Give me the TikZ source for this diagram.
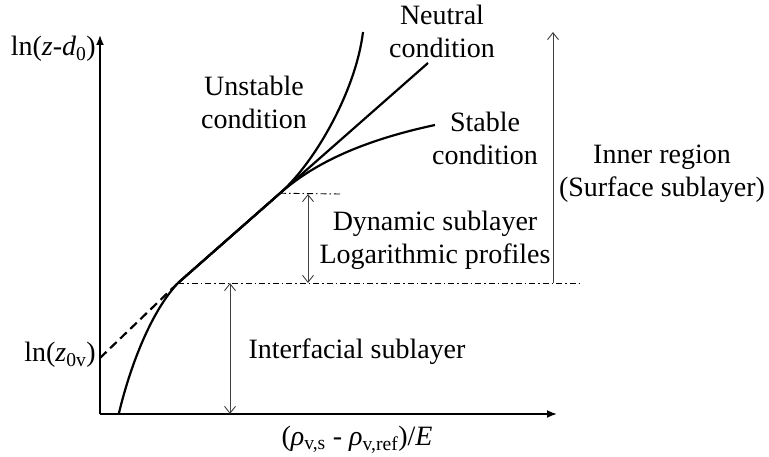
\documentclass[tikz,border=0pt]{standalone}
\usepackage{fontspec}
\setmainfont{Liberation Serif}
\usetikzlibrary{arrows.meta, positioning, calc}

\begin{document}
\begin{tikzpicture}[
  x=1pt, y=-1pt,
  lbl/.style={align=center, font=\fontsize{28}{33}\selectfont, inner sep=0pt},
  axis/.style={line width=1.8pt, -{Latex[length=10pt,width=8pt]}},
  prof/.style={line width=2.2pt},
  ext/.style={prof, dash pattern=on 9pt off 5pt},
  dim/.style={line width=0.9pt, black!75, {Straight Barb[length=7pt,width=11pt]}-{Straight Barb[length=7pt,width=11pt]}},
  up/.style={line width=0.9pt, black!75, -{Straight Barb[length=7pt,width=11pt]}},
  lev/.style={line width=0.9pt, dash pattern=on 6pt off 3pt on 1.5pt off 3pt}
]
\useasboundingbox (0,0) rectangle (769,457);

%% --- Axes ---
\coordinate (O)    at (100,414);
\coordinate (ytop) at (100,35);
\coordinate (xend) at (557,414);
\draw[axis] (O) -- (ytop);
\draw[axis] (O) -- (xend);
\node[lbl, anchor=east] (ylab) at (96,49) {ln(\textit{z}-\textit{d}\textsubscript{0})};
\node[lbl] (xlab) at (357,440) {(\textit{ρ}\textsubscript{v,s} - \textit{ρ}\textsubscript{v,ref})/\textit{E}};
\node[lbl, anchor=east] (zlab) at (96,355) {ln(\textit{z}\textsubscript{0v})};

%% --- Profiles ---
\coordinate (z0)   at (100,358);
\coordinate (lo)   at (178,283);
\coordinate (neut) at (428,63);
\coordinate (hi)   at ($(lo)!0.408!(neut)$);
\coordinate (hic)  at ($(lo)!0.55!(neut)$);
\coordinate (base) at (119,413);
\coordinate (unst) at (363,32);
\coordinate (stab) at (435,125);

\draw[ext]  (z0) -- (lo);
\draw[prof] (base) .. controls (128,375) and (148,315) .. (lo);
\draw[prof] (lo) -- (neut);
\draw[prof] (lo) -- (hi) .. controls (hic) and (356,90) .. (unst);
\draw[prof] (lo) -- (hi) .. controls (hic) and (365,140) .. (stab);

%% --- Sublayer limits ---
\coordinate (loEnd) at (583,283);
\coordinate (hiEnd) at (340,194);
\draw[lev] (lo) -- (loEnd);
\draw[lev] (hi) -- (hiEnd);

\coordinate (ifTop)  at (230,283);
\coordinate (ifBot)  at (230,414);
\coordinate (dyTop)  at (308,194);
\coordinate (dyBot)  at (308,283);
\coordinate (inBot)  at (553,283);
\coordinate (inTop)  at (553,32);
\draw[dim] (ifTop) -- (ifBot);
\draw[dim] (dyTop) -- (dyBot);
\draw[up]  (inBot) -- (inTop);

%% --- Labels ---
\node[lbl] (unstlab)  at (254,102) {Unstable\\condition};
\node[lbl] (neutlab)  at (442,31)  {Neutral\\condition};
\node[lbl] (stablab)  at (485,138) {Stable\\condition};
\node[lbl] (dynlab)   at (435,240) {Dynamic sublayer\\Logarithmic profiles};
\node[lbl] (innerlab) at (662,174) {Inner region\\(Surface sublayer)};
\node[lbl] (interlab) at (357,352) {Interfacial sublayer};

\end{tikzpicture}
\end{document}
